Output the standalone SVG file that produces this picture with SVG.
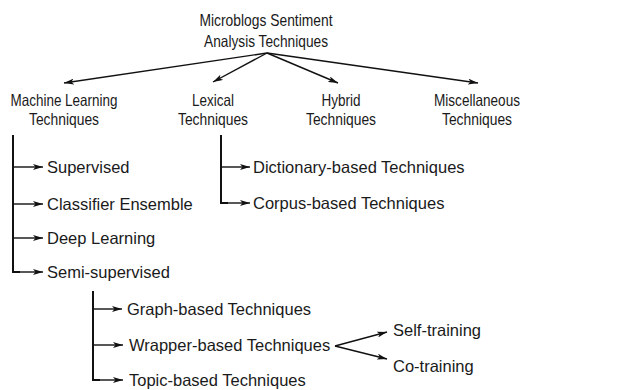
<svg xmlns="http://www.w3.org/2000/svg" width="633" height="390" viewBox="0 0 633 390">
<defs>
<style>
text{font-family:"Liberation Sans",Arial,sans-serif;font-size:16.5px;fill:#1a1a1a}
.h{font-family:"Liberation Sans Narrow","Arial Narrow","Liberation Sans",sans-serif;font-size:16.5px;text-anchor:middle}
.ln{stroke:#111;stroke-width:1.4;fill:none}
.tr{stroke:#111;stroke-width:2;fill:none}
</style>
<marker id="ah" viewBox="0 0 10 6" refX="10" refY="3" markerWidth="10" markerHeight="6" markerUnits="userSpaceOnUse" orient="auto">
<path d="M0,0 L10,3 L0,6 L2.5,3 Z" fill="#111"/>
</marker>
</defs>
<rect width="633" height="390" fill="#fff"/>
<g id="connectors">
<line class="ln" x1="267" y1="53" x2="64" y2="83" marker-end="url(#ah)"/>
<line class="ln" x1="267" y1="53" x2="213" y2="82" marker-end="url(#ah)"/>
<line class="ln" x1="267" y1="53" x2="338" y2="83" marker-end="url(#ah)"/>
<line class="ln" x1="267" y1="53" x2="478" y2="83" marker-end="url(#ah)"/>
<path class="tr" d="M13,135 V272 H20"/>
<line class="ln" x1="13" y1="167" x2="43" y2="167" marker-end="url(#ah)"/>
<line class="ln" x1="13" y1="204" x2="43" y2="204" marker-end="url(#ah)"/>
<line class="ln" x1="13" y1="238" x2="43" y2="238" marker-end="url(#ah)"/>
<line class="ln" x1="13" y1="272" x2="43" y2="272" marker-end="url(#ah)"/>
<path class="tr" d="M221,135 V203 H228"/>
<line class="ln" x1="221" y1="167" x2="250" y2="167" marker-end="url(#ah)"/>
<line class="ln" x1="221" y1="203" x2="250" y2="203" marker-end="url(#ah)"/>
<path class="tr" d="M93,291 V380 H100"/>
<line class="ln" x1="93" y1="309" x2="122" y2="309" marker-end="url(#ah)"/>
<line class="ln" x1="93" y1="345" x2="123" y2="345" marker-end="url(#ah)"/>
<line class="ln" x1="93" y1="380" x2="123" y2="380" marker-end="url(#ah)"/>
<line class="ln" x1="335" y1="346" x2="387" y2="332" marker-end="url(#ah)"/>
<line class="ln" x1="335" y1="346" x2="387" y2="359" marker-end="url(#ah)"/>
</g>
<g id="root"><text class="h" x="266" y="26" textLength="133" lengthAdjust="spacingAndGlyphs">Microblogs Sentiment</text><text class="h" x="266" y="47" textLength="124" lengthAdjust="spacingAndGlyphs">Analysis Techniques</text></g>
<g id="ml"><text class="h" x="64" y="106" textLength="107" lengthAdjust="spacingAndGlyphs">Machine Learning</text><text class="h" x="64" y="125" textLength="70" lengthAdjust="spacingAndGlyphs">Techniques</text></g>
<g id="lexical"><text class="h" x="213" y="106" textLength="42" lengthAdjust="spacingAndGlyphs">Lexical</text><text class="h" x="213" y="125" textLength="70" lengthAdjust="spacingAndGlyphs">Techniques</text></g>
<g id="hybrid"><text class="h" x="341" y="106" textLength="39" lengthAdjust="spacingAndGlyphs">Hybrid</text><text class="h" x="341" y="125" textLength="70" lengthAdjust="spacingAndGlyphs">Techniques</text></g>
<g id="misc"><text class="h" x="477" y="106" textLength="86" lengthAdjust="spacingAndGlyphs">Miscellaneous</text><text class="h" x="477" y="125" textLength="70" lengthAdjust="spacingAndGlyphs">Techniques</text></g>
<g id="supervised"><text x="47" y="173">Supervised</text></g>
<g id="ensemble"><text x="47" y="210">Classifier Ensemble</text></g>
<g id="deep"><text x="47" y="244">Deep Learning</text></g>
<g id="semi"><text x="47" y="278">Semi-supervised</text></g>
<g id="dictionary"><text x="253" y="173">Dictionary-based Techniques</text></g>
<g id="corpus"><text x="253" y="209">Corpus-based Techniques</text></g>
<g id="graph"><text x="127" y="315">Graph-based Techniques</text></g>
<g id="wrapper"><text x="129" y="351">Wrapper-based Techniques</text></g>
<g id="topic"><text x="129" y="386">Topic-based Techniques</text></g>
<g id="self"><text x="393" y="336">Self-training</text></g>
<g id="cotraining"><text x="393" y="372">Co-training</text></g>
</svg>
